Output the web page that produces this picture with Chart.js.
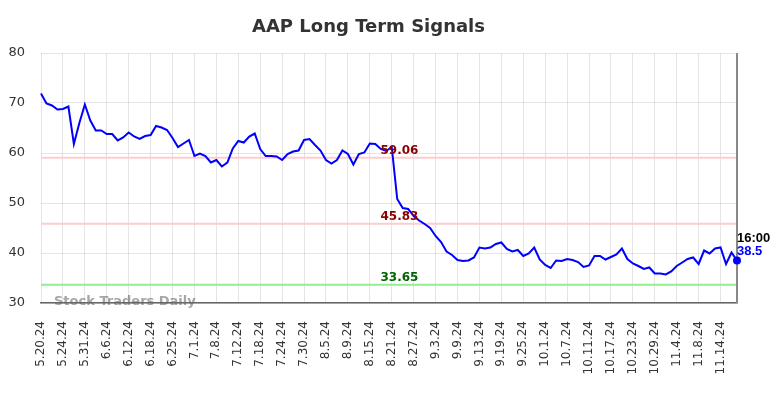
<!DOCTYPE html>
<html><head><meta charset="utf-8">
<script src="https://cdn.jsdelivr.net/npm/chart.js@4/dist/chart.umd.min.js"></script>
<style>html,body{margin:0;padding:0;background:#fff}canvas{display:block}</style>
</head><body>
<canvas id="c" width="784" height="398" style="width:784px;height:398px"></canvas>
<script>
const chartTitle = 'AAP Long Term Signals';
const dates = [
'5.20.24','5.21.24','5.22.24','5.23.24','5.24.24','5.28.24','5.29.24','5.30.24','5.31.24',
'6.3.24','6.4.24','6.5.24','6.6.24','6.7.24','6.10.24','6.11.24','6.12.24','6.13.24','6.14.24','6.17.24','6.18.24','6.20.24','6.21.24','6.24.24','6.25.24','6.26.24','6.27.24','6.28.24',
'7.1.24','7.2.24','7.3.24','7.5.24','7.8.24','7.9.24','7.10.24','7.11.24','7.12.24','7.15.24','7.16.24','7.17.24','7.18.24','7.19.24','7.22.24','7.23.24','7.24.24','7.25.24','7.26.24','7.29.24','7.30.24','7.31.24',
'8.1.24','8.2.24','8.5.24','8.6.24','8.7.24','8.8.24','8.9.24','8.12.24','8.13.24','8.14.24','8.15.24','8.16.24','8.19.24','8.20.24','8.21.24','8.22.24','8.23.24','8.26.24','8.27.24','8.28.24','8.29.24','8.30.24',
'9.3.24','9.4.24','9.5.24','9.6.24','9.9.24','9.10.24','9.11.24','9.12.24','9.13.24','9.16.24','9.17.24','9.18.24','9.19.24','9.20.24','9.23.24','9.24.24','9.25.24','9.26.24','9.27.24','9.30.24',
'10.1.24','10.2.24','10.3.24','10.4.24','10.7.24','10.8.24','10.9.24','10.10.24','10.11.24','10.14.24','10.15.24','10.16.24','10.17.24','10.18.24','10.21.24','10.22.24','10.23.24','10.24.24','10.25.24','10.28.24','10.29.24','10.30.24','10.31.24',
'11.1.24','11.4.24','11.5.24','11.6.24','11.7.24','11.8.24','11.11.24','11.12.24','11.13.24','11.14.24','11.15.24','11.18.24','11.19.24'
];
const signalValues = [
71.9,69.9,69.5,68.7,68.8,69.3,61.8,66.0,69.7,66.5,
64.5,64.5,63.8,63.8,62.5,63.1,64.1,63.3,62.8,63.4,
63.6,65.4,65.1,64.6,63.0,61.2,61.9,62.6,59.4,59.9,
59.4,58.1,58.6,57.3,58.1,60.9,62.4,62.1,63.3,63.9,
60.8,59.4,59.4,59.3,58.6,59.8,60.3,60.5,62.6,62.8,
61.6,60.5,58.6,57.9,58.6,60.5,59.8,57.7,59.8,60.1,
61.9,61.8,60.8,60.4,61.2,50.8,49.0,48.8,47.4,46.5,
45.8,45.0,43.4,42.2,40.3,39.6,38.6,38.4,38.5,39.1,
41.1,40.9,41.1,41.8,42.1,40.8,40.3,40.6,39.4,39.9,
41.1,38.7,37.6,37.0,38.5,38.4,38.8,38.6,38.2,37.2,
37.5,39.4,39.4,38.7,39.2,39.7,40.9,38.8,37.9,37.4,
36.8,37.1,35.9,35.9,35.7,36.3,37.4,38.1,38.8,39.1,
37.8,40.5,39.9,40.9,41.1,37.8,40.1,38.5
];
const levelValues = [59.06, 45.83, 33.65];
const levelLineColors = ['#ffcccc', '#ffcccc', '#90ee90'];
const levelTextColors = ['#8b0000', '#8b0000', '#006400'];
const yMin = 30, yMax = 80, yStep = 10;
const tickEvery = 4;
const lastTimeLabel = '16:00';
const watermark = 'Stock Traders Daily';

const lastIdx = signalValues.length - 1;

const overlay = {
  id: 'overlay',
  beforeDraw(chart) {
    const {ctx, chartArea} = chart;
    ctx.save();
    ctx.font = 'bold 13px "DejaVu Sans"';
    ctx.fillStyle = '#a6a6a6';
    ctx.textAlign = 'left';
    ctx.textBaseline = 'middle';
    ctx.fillText(watermark, chartArea.left + 13, chartArea.bottom - 1);
    ctx.restore();
  },
  beforeDatasetsDraw(chart) {
    const {ctx, chartArea, scales} = chart;
    ctx.save();
    levelValues.forEach((v, i) => {
      const y = scales.y.getPixelForValue(v);
      ctx.strokeStyle = levelLineColors[i];
      ctx.lineWidth = 2;
      ctx.beginPath();
      ctx.moveTo(chartArea.left, y);
      ctx.lineTo(chartArea.right, y);
      ctx.stroke();
    });
    ctx.strokeStyle = '#888';
    ctx.lineWidth = 2;
    ctx.beginPath();
    ctx.moveTo(chartArea.right, chartArea.top);
    ctx.lineTo(chartArea.right, chartArea.bottom);
    ctx.stroke();
    ctx.restore();
  },
  afterDatasetsDraw(chart) {
    const {ctx, chartArea, scales} = chart;
    ctx.save();
    ctx.font = 'bold 12px "DejaVu Sans"';
    ctx.textAlign = 'center';
    ctx.textBaseline = 'alphabetic';
    const cx = chartArea.left + (chartArea.right - chartArea.left) * 0.515;
    levelValues.forEach((v, i) => {
      const y = scales.y.getPixelForValue(v);
      ctx.fillStyle = levelTextColors[i];
      ctx.fillText(v.toFixed(2), cx, y - 4);
    });
    const px = scales.x.getPixelForValue(lastIdx);
    const py = scales.y.getPixelForValue(signalValues[lastIdx]);
    ctx.textAlign = 'left';
    ctx.font = 'bold 13px "Liberation Sans"';
    ctx.fillStyle = '#000';
    ctx.fillText(lastTimeLabel, px, py - 19);
    ctx.fillStyle = '#0000ff';
    ctx.fillText(String(signalValues[lastIdx]), px, py - 5.5);
    ctx.restore();
  }
};

new Chart(document.getElementById('c'), {
  type: 'line',
  data: {
    labels: dates,
    datasets: [{
      data: signalValues,
      borderColor: '#0000ff',
      backgroundColor: '#0000ff',
      borderWidth: 2,
      tension: 0,
      clip: false,
      pointRadius: ctx => ctx.dataIndex === lastIdx ? 4 : 0,
      pointHoverRadius: 0,
      pointBackgroundColor: '#0000ff',
      pointBorderWidth: 0
    }]
  },
  options: {
    responsive: false,
    animation: false,
    devicePixelRatio: 1,
    layout: { padding: { left: 0, right: 47, top: 0, bottom: 0 } },
    plugins: {
      legend: { display: false },
      tooltip: { enabled: false },
      title: {
        display: true,
        text: chartTitle,
        color: '#333',
        font: { family: '"DejaVu Sans"', size: 18, weight: 'bold' },
        padding: { top: 17, bottom: 14.4 }
      }
    },
    scales: {
      x: {
        offset: false,
        afterFit(s) { s.height = 95; },
        border: { display: true, color: '#666', width: 1.5 },
        grid: {
          drawTicks: false,
          color: ctx => (ctx.index % tickEvery === 0) ? 'rgba(0,0,0,0.1)' : 'rgba(0,0,0,0)'
        },
        ticks: {
          autoSkip: false,
          minRotation: 90,
          maxRotation: 90,
          padding: 18,
          color: '#333',
          font: { family: '"DejaVu Sans"', size: 12 },
          callback: (v, i) => (i % tickEvery === 0) ? dates[i] : ''
        }
      },
      y: {
        min: yMin, max: yMax,
        afterFit(s) { s.width = 41; },
        border: { display: false },
        grid: { drawTicks: false, color: 'rgba(0,0,0,0.1)' },
        ticks: {
          stepSize: yStep,
          padding: 16,
          color: '#333',
          font: { family: '"DejaVu Sans"', size: 13 }
        }
      }
    }
  },
  plugins: [overlay]
});
</script>
</body></html>
